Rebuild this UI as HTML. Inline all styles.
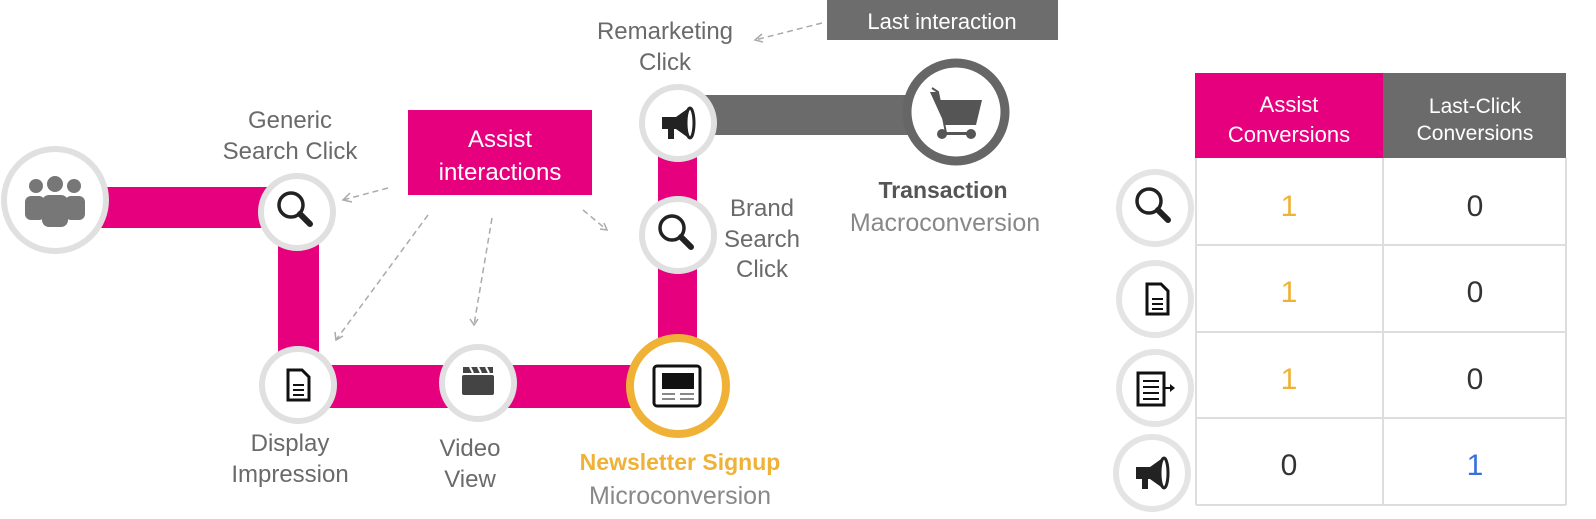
<!DOCTYPE html>
<html><head><meta charset="utf-8"><style>
body{margin:0;background:#fff;width:1596px;height:519px;overflow:hidden}
svg{display:block}
text{font-family:"Liberation Sans",sans-serif}
.l{fill:#6a6a6a;font-size:24px;text-anchor:middle}
.h{font-family:"Liberation Sans Narrow","Liberation Sans",sans-serif;text-anchor:middle}
</style></head><body>
<svg width="1596" height="519" viewBox="0 0 1596 519">
<defs>
<g id="mag"><circle cx="-4" cy="-4" r="12" fill="none" stroke="#222" stroke-width="3.5"/><line x1="5" y1="5" x2="15" y2="15" stroke="#222" stroke-width="6" stroke-linecap="round"/></g>
<g id="doc"><path d="M-10,-15 H4 L11,-8 V15 H-10 Z" fill="#fff" stroke="#111" stroke-width="3"/><path d="M-5,0 H6 M-5,5 H6 M-5,10 H6" stroke="#111" stroke-width="2"/></g>
<g id="mega"><path d="M-14,-6 H0 L14,-16 V16 L0,6 H-14 Z" fill="#222"/><rect x="-8" y="6" width="6" height="10" fill="#222"/><ellipse cx="14" cy="0" rx="4" ry="15" fill="#fff" stroke="#222" stroke-width="3"/></g>
</defs>
<rect x="100" y="187" width="200" height="41" fill="#e6007e"/>
<rect x="278" y="212" width="41" height="173" fill="#e6007e"/>
<rect x="298" y="365" width="380" height="43" fill="#e6007e"/>
<rect x="658" y="123" width="39" height="263" fill="#e6007e"/>
<rect x="690" y="95" width="230" height="40" fill="#6b6b6b"/>
<g stroke="#aaa" stroke-width="1.5" stroke-dasharray="6,4" fill="none">
<line x1="388" y1="188" x2="343" y2="200"/>
<line x1="428" y1="215" x2="336" y2="340"/>
<line x1="492" y1="218" x2="474" y2="325"/>
<line x1="583" y1="210" x2="607" y2="230"/>
<line x1="822" y1="23" x2="755" y2="40"/>
</g>
<g fill="none" stroke="#aaa" stroke-width="1.5">
<path d="M350,193 L343,200 L352,202"/><path d="M335,332 L336,340 L343,336"/><path d="M470,319 L474,325 L478,319"/><path d="M600,229 L607,230 L604,223"/><path d="M762,34 L755,40 L763,42"/>
</g>
<g fill="#fff" stroke="#e0e0e0" stroke-width="6">
<circle cx="55" cy="200" r="51"/>
<circle cx="297" cy="212" r="36"/>
<circle cx="298" cy="385" r="36"/>
<circle cx="478" cy="383" r="36"/>
<circle cx="678" cy="235" r="36"/>
<circle cx="678" cy="123" r="36"/>
</g>
<circle cx="678" cy="386" r="48" fill="#fff" stroke="#efb236" stroke-width="8"/>
<circle cx="956" cy="112" r="49" fill="#fff" stroke="#666" stroke-width="9"/>
<g fill="#777">
<circle cx="36" cy="186" r="7"/><circle cx="74" cy="186" r="7"/><circle cx="55" cy="184" r="8"/>
<rect x="25" y="196" width="20" height="24" rx="6"/><rect x="65" y="196" width="20" height="24" rx="6"/>
<rect x="42" y="195" width="26" height="32" rx="7"/>
</g>
<use href="#mag" x="295" y="209"/>
<use href="#mag" x="676" y="232"/>
<use href="#doc" x="298" y="385"/>
<use href="#mega" x="676" y="123"/>
<g><rect x="462" y="375" width="32" height="20" rx="2" fill="#444"/><path d="M463,367 h30 v6 h-30z" fill="#444"/><path d="M470,367 l3,6 M478,367 l3,6 M486,367 l3,6" stroke="#fff" stroke-width="2"/></g>
<g><rect x="654" y="366" width="46" height="40" rx="3" fill="#fff" stroke="#111" stroke-width="3"/><rect x="662" y="373" width="32" height="16" fill="#111"/><path d="M662,394 h13 M680,394 h14 M662,399 h13 M680,399 h14" stroke="#888" stroke-width="2"/></g>
<g fill="#555"><path d="M930,92 L937,92 L940,100 L982,100 L976,125 L945,125 Z"/><rect x="940" y="132" width="32" height="3"/><circle cx="942" cy="134" r="5"/><circle cx="971" cy="134" r="5"/></g>
<path d="M932,88 L938,92 L946,133" stroke="#555" stroke-width="2" fill="none"/>
<rect x="408" y="110" width="184" height="85" fill="#e6007e"/>
<text class="h" x="500" y="147" fill="#fff" font-size="24">Assist</text>
<text class="h" x="500" y="180" fill="#fff" font-size="24">interactions</text>
<rect x="827" y="0" width="231" height="40" fill="#6d6d6d"/>
<text class="h" x="942" y="29" fill="#fff" font-size="22">Last interaction</text>
<text class="l" x="665" y="39">Remarketing</text><text class="l" x="665" y="70">Click</text>
<text class="l" x="290" y="128">Generic</text><text class="l" x="290" y="159">Search Click</text>
<text class="l" x="762" y="216">Brand</text><text class="l" x="762" y="247">Search</text><text class="l" x="762" y="277">Click</text>
<text class="l" x="290" y="451">Display</text><text class="l" x="290" y="482">Impression</text>
<text class="l" x="470" y="456">Video</text><text class="l" x="470" y="487">View</text>
<text x="680" y="470" font-size="23" font-weight="bold" fill="#efb236" text-anchor="middle">Newsletter Signup</text>
<text class="h" x="680" y="504" font-size="25" fill="#888">Microconversion</text>
<text x="943" y="198" font-size="23" font-weight="bold" fill="#555" text-anchor="middle">Transaction</text>
<text class="h" x="945" y="231" font-size="25" fill="#888">Macroconversion</text>
<rect x="1195" y="73" width="188" height="85" fill="#e6007e"/>
<rect x="1383" y="73" width="183" height="85" fill="#6b6b6b"/>
<text class="h" x="1289" y="112" fill="#fff" font-size="22">Assist</text><text class="h" x="1289" y="142" fill="#fff" font-size="22">Conversions</text>
<text class="h" x="1475" y="113" fill="#fff" font-size="21">Last-Click</text><text class="h" x="1475" y="140" fill="#fff" font-size="21">Conversions</text>
<g stroke="#ddd" stroke-width="2" fill="none">
<path d="M1196,158 V505 M1383,158 V505 M1566,158 V505 M1196,245 H1566 M1196,332 H1566 M1196,418 H1566 M1196,505 H1566"/>
</g>
<g fill="#fff" stroke="#e4e4e4" stroke-width="6">
<circle cx="1155" cy="208" r="36"/><circle cx="1155" cy="299" r="36"/><circle cx="1155" cy="388" r="36"/><circle cx="1152" cy="473" r="36"/>
</g>
<use href="#mag" x="1153" y="205"/>
<use href="#doc" x="1157" y="299"/>
<g><rect x="1138" y="373" width="26" height="32" fill="#fff" stroke="#111" stroke-width="3"/><path d="M1143,381 h16 M1143,387 h16 M1143,393 h16 M1143,399 h16" stroke="#111" stroke-width="2"/><path d="M1164,388 h8" stroke="#111" stroke-width="2"/><path d="M1170,384 l5,4 l-5,4z" fill="#111"/></g>
<use href="#mega" x="1150" y="473"/>
<g font-size="30" text-anchor="middle">
<text x="1289" y="216" fill="#efb236">1</text><text x="1475" y="216" fill="#333">0</text>
<text x="1289" y="302" fill="#efb236">1</text><text x="1475" y="302" fill="#333">0</text>
<text x="1289" y="389" fill="#efb236">1</text><text x="1475" y="389" fill="#333">0</text>
<text x="1289" y="475" fill="#333">0</text><text x="1475" y="475" fill="#3a6fe0">1</text>
</g>
</svg>
</body></html>
